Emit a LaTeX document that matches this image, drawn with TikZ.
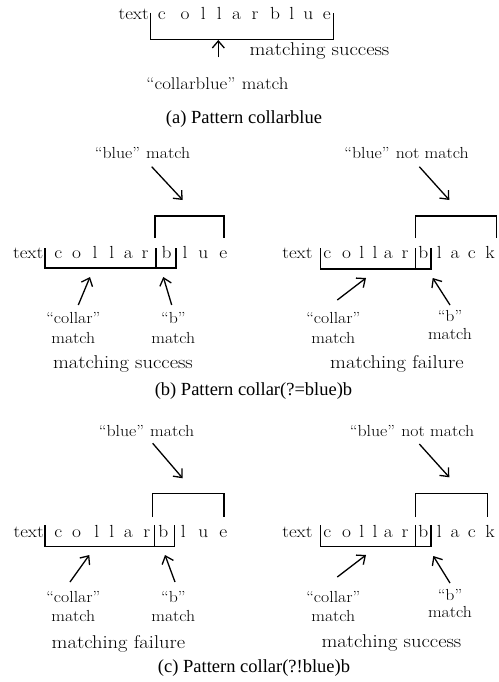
\documentclass[tikz,border=0pt]{standalone}
\usepackage{fontspec}
\usepackage{graphicx}
\newfontfamily\capfont{Liberation Serif}
\newcommand\wtxt[1]{\scalebox{1.11}[1]{#1}}
\usetikzlibrary{arrows.meta}
\tikzset{
 lab/.style={font=\fontsize{16}{18}\selectfont, inner sep=0pt, anchor=base},
 lab2/.style={font=\fontsize{17}{19}\selectfont, inner sep=0pt, anchor=base},
 big/.style={font=\fontsize{18.5}{20}\selectfont, inner sep=0pt, anchor=base},
 chr/.style={font=\fontsize{17.5}{19}\selectfont, inner sep=0pt, anchor=base},
 txt/.style={font=\fontsize{17}{19}\selectfont, inner sep=0pt, anchor=base east},
 capt/.style={font=\capfont\fontsize{18.5}{20}\selectfont, inner sep=0pt, anchor=base},
 brk/.style={line width=1.5pt},
 arr/.style={line width=1.3pt, -{Straight Barb[length=7pt,width=12pt]}},
}
\begin{document}
\begin{tikzpicture}[x=1pt,y=-1pt]
\useasboundingbox (0,0) rectangle (498,682);

% ---------------- (a) ----------------
\node[txt] (aT) at (149,19.5) {\wtxt{text}};
\foreach \lt/\x [count=\i] in {c/161.7,o/185,l/203.3,l/219.3,a/236.7,r/255,b/275,l/291.7,u/308.3,e/326.7}
  \node[chr] (a\i) at (\x,19.5) {\wtxt{\lt}};
\draw[brk] (150.7,12.7) -- (150.7,39.3) -- (333.3,39.3) -- (333.3,12.7);
\coordinate (aTail) at (218.3,57.5);
\coordinate (aTip) at (218.3,40);
\draw[arr] (aTail) -- (aTip);
\node[big] (aMS) at (319.5,56) {\wtxt{matching success}};
\node[lab2] (aCM) at (217.5,89.3) {\wtxt{“collarblue”\hspace{.33em}match}};
\node[capt] (aCap) at (244,124) {(a) Pattern collarblue};

% ---------------- (b) ----------------
\begin{scope}[shift={(0,258)}]
 % left
 \node[lab] (bLBM) at (142.5,-100) {\wtxt{“blue”\hspace{.35em}match}};
 \coordinate (bLt0) at (151.7,-91.3); \coordinate (bLh0) at (182.7,-58);
 \draw[arr] (bLt0) -- (bLh0);
 \draw[brk] (155,-20) -- (155,-42) -- (224,-42) -- (224,-20);
 \node[txt] (bLT) at (43.5,0) {\wtxt{text}};
 \foreach \lt/\x [count=\i] in {c/58.3,o/76.7,l/95,l/111.7,a/128.3,r/145,b/166.7,l/185,u/203.3,e/223.3}
   \node[chr] (bL\i) at (\x,0) {\wtxt{\lt}};
 \draw[brk] (45,-10) -- (45,10) -- (176,10) -- (176,-10);
 \draw[brk] (156,-10) -- (156,10);
 \coordinate (bLt1) at (78.3,47); \coordinate (bLh1) at (90,19);
 \coordinate (bLt2) at (171.7,47); \coordinate (bLh2) at (163.3,19);
 \draw[arr] (bLt1) -- (bLh1);
 \draw[arr] (bLt2) -- (bLh2);
 \node[lab] (bLC) at (73.3,65) {\wtxt{“collar”}};
 \node[lab] (bLCm) at (73.3,85) {\wtxt{match}};
 \node[lab] (bLB) at (173.3,65) {\wtxt{“b”}};
 \node[lab] (bLBm) at (173.3,85) {\wtxt{match}};
 \node[big] (bLres) at (123,110) {\wtxt{matching success}};
 % right
 \node[lab] (bRBM) at (406.5,-100) {\wtxt{“blue”\hspace{.35em}not match}};
 \coordinate (bRt0) at (419.3,-91.3); \coordinate (bRh0) at (449.3,-58);
 \draw[arr] (bRt0) -- (bRh0);
 \draw[brk] (415.7,-20) -- (415.7,-42) -- (496.7,-42) -- (496.7,-20);
 \node[txt] (bRT) at (312.7,0) {\wtxt{text}};
 \foreach \lt/\x [count=\i] in {c/327.3,o/346.7,l/361.7,l/375,a/388.3,r/405,b/423.3,l/439.3,a/455,c/471.7,k/490}
   \node[chr] (bR\i) at (\x,0) {\wtxt{\lt}};
 \draw[brk] (320.7,-10) -- (320.7,11) -- (431,11) -- (431,-10);
 \draw[brk] (415.7,-10) -- (415.7,11);
 \coordinate (bRt1) at (337.3,42); \coordinate (bRh1) at (366,20);
 \coordinate (bRt2) at (450,47); \coordinate (bRh2) at (432.7,20);
 \draw[arr] (bRt1) -- (bRh1);
 \draw[arr] (bRt2) -- (bRh2);
 \node[lab] (bRC) at (333.3,65) {\wtxt{“collar”}};
 \node[lab] (bRCm) at (333.3,85) {\wtxt{match}};
 \node[lab] (bRB) at (450,63) {\wtxt{“b”}};
 \node[lab] (bRBm) at (450,81) {\wtxt{match}};
 \node[big] (bRres) at (397,110) {\wtxt{matching failure}};
 \node[capt] (bCap) at (253.5,137) {(b) Pattern collar(?=blue)b};
\end{scope}

% ---------------- (c) ----------------
\begin{scope}[shift={(0,537)}]
 % left
 \node[lab] (cLBM) at (146.5,-101) {\wtxt{“blue”\hspace{.35em}match}};
 \coordinate (cLt0) at (152.7,-93.7); \coordinate (cLh0) at (182.7,-58.7);
 \draw[arr] (cLt0) -- (cLh0);
 \draw[brk] (152.3,-20) -- (152.3,-43.7) -- (224,-43.7) -- (224,-20);
 \node[txt] (cLT) at (44,0) {\wtxt{text}};
 \foreach \lt/\x [count=\i] in {c/58.3,o/76.7,l/96.7,l/111.7,a/128.3,r/146.7,b/163.3,l/183.3,u/203.3,e/223.3}
   \node[chr] (cL\i) at (\x,0) {\wtxt{\lt}};
 \draw[brk] (45,-12) -- (45,9.7) -- (174.3,9.7) -- (174.3,-12);
 \draw[brk] (154.3,-12) -- (154.3,9.7);
 \coordinate (cLt1) at (70,45); \coordinate (cLh1) at (89.3,18);
 \coordinate (cLt2) at (175,45); \coordinate (cLh2) at (165,18);
 \draw[arr] (cLt1) -- (cLh1);
 \draw[arr] (cLt2) -- (cLh2);
 \node[lab] (cLC) at (73.3,65) {\wtxt{“collar”}};
 \node[lab] (cLCm) at (73.3,84) {\wtxt{match}};
 \node[lab] (cLB) at (173.3,65) {\wtxt{“b”}};
 \node[lab] (cLBm) at (173.3,84) {\wtxt{match}};
 \node[big] (cLres) at (118.5,111) {\wtxt{matching failure}};
 % right
 \node[lab] (cRBM) at (412,-101) {\wtxt{“blue”\hspace{.35em}not match}};
 \coordinate (cRt0) at (419.3,-93); \coordinate (cRh0) at (449.3,-59.7);
 \draw[arr] (cRt0) -- (cRh0);
 \draw[brk] (415.7,-20) -- (415.7,-43.7) -- (487.3,-43.7) -- (487.3,-20);
 \node[txt] (cRT) at (312.7,0) {\wtxt{text}};
 \foreach \lt/\x [count=\i] in {c/327.3,o/346.7,l/361.7,l/375,a/388.3,r/405,b/423.3,l/439.3,a/455,c/471.7,k/490}
   \node[chr] (cR\i) at (\x,0) {\wtxt{\lt}};
 \draw[brk] (320.7,-12) -- (320.7,9.7) -- (431,9.7) -- (431,-12);
 \draw[brk] (415.7,-12) -- (415.7,9.7);
 \coordinate (cRt1) at (337.3,40); \coordinate (cRh1) at (366,18);
 \coordinate (cRt2) at (450,46); \coordinate (cRh2) at (433.3,19);
 \draw[arr] (cRt1) -- (cRh1);
 \draw[arr] (cRt2) -- (cRh2);
 \node[lab] (cRC) at (333.3,65) {\wtxt{“collar”}};
 \node[lab] (cRCm) at (333.3,84) {\wtxt{match}};
 \node[lab] (cRB) at (450,63) {\wtxt{“b”}};
 \node[lab] (cRBm) at (450,80) {\wtxt{match}};
 \node[big] (cRres) at (391.5,110) {\wtxt{matching success}};
 \node[capt] (cCap) at (254,135) {(c) Pattern collar(?!blue)b};
\end{scope}
\end{tikzpicture}
\end{document}
